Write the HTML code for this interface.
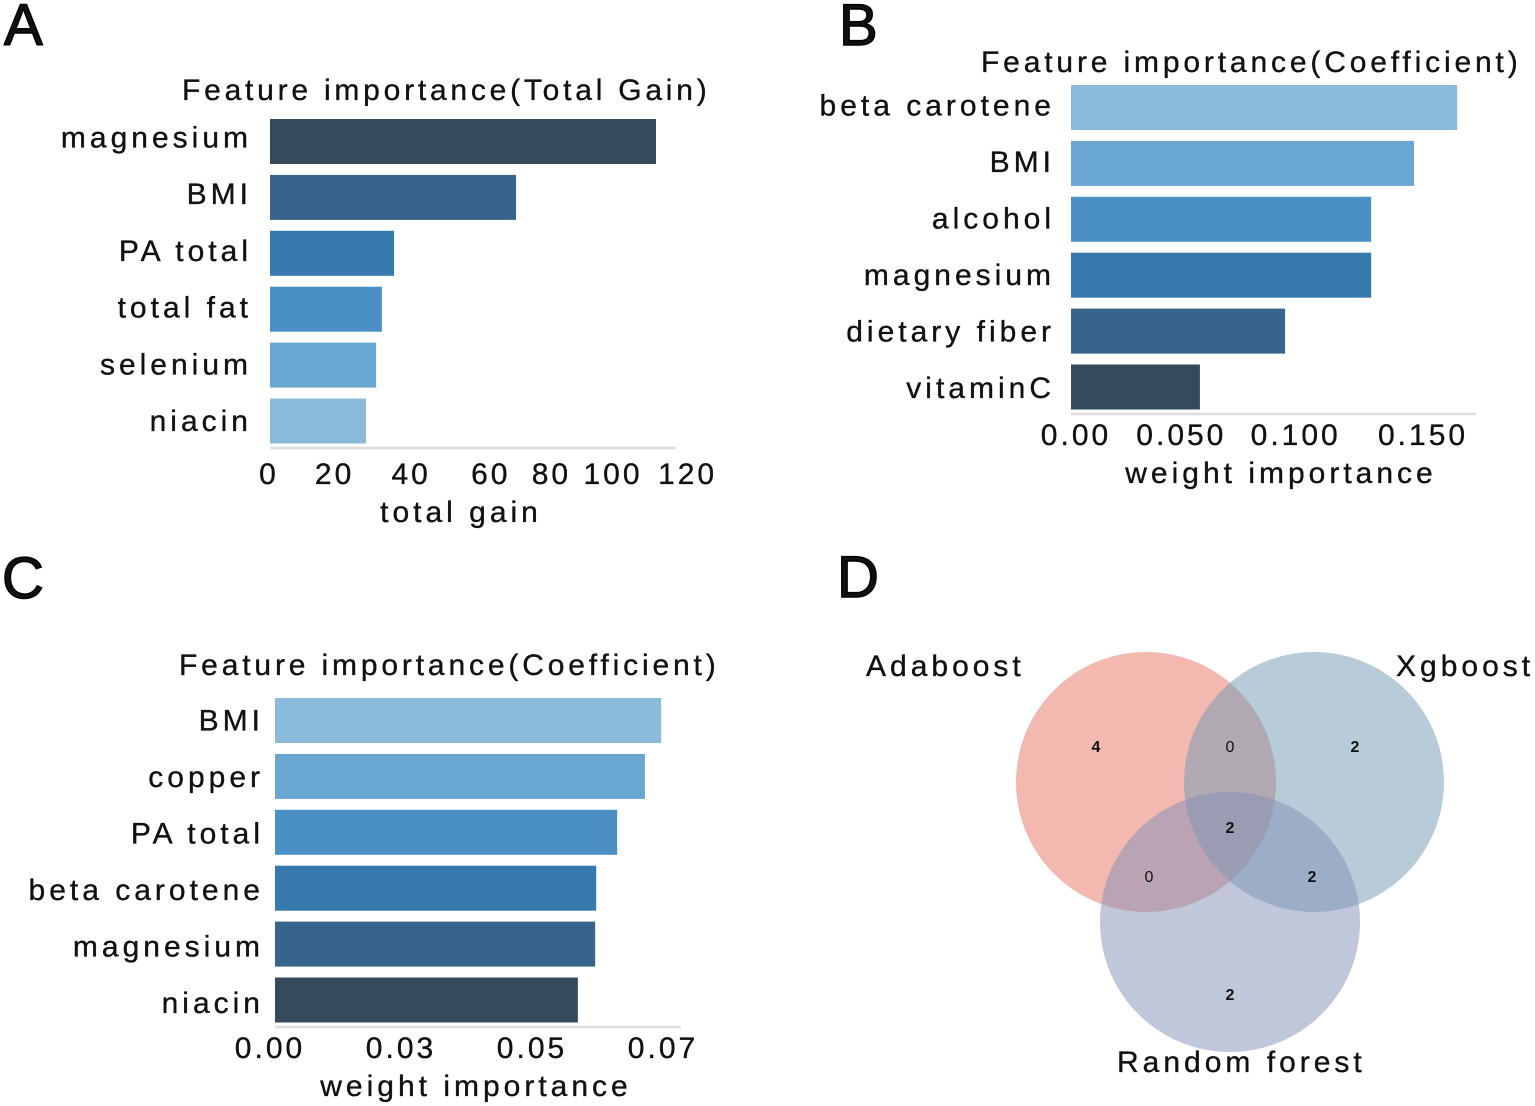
<!DOCTYPE html>
<html lang="en">
<head>
<meta charset="utf-8">
<title>Feature importance panels</title>
<style>
html,body{margin:0;padding:0;background:#fff;width:1535px;height:1106px;overflow:hidden}
svg{display:block}
text{font-family:"Liberation Sans",sans-serif;fill:#111}
.lbl{font-size:30px;letter-spacing:4px;stroke:#111;stroke-width:.35px}
.tick{font-size:30px;letter-spacing:3px;stroke:#111;stroke-width:.35px}
.title{font-size:30px;letter-spacing:3.3px;stroke:#111;stroke-width:.35px}
.panel{font-size:58px;stroke:#000;stroke-width:1.4px}
.count{font-size:16px;font-weight:bold;text-anchor:middle}
.count0{font-size:16px;font-weight:normal;text-anchor:middle}
</style>
</head>
<body>
<svg id="figure" width="1535" height="1106" viewBox="0 0 1535 1106" xmlns="http://www.w3.org/2000/svg">
<rect width="1535" height="1106" fill="#fff"/>
<text class="panel" x="4" y="45">A</text>
<text class="panel" x="839" y="45">B</text>
<text class="panel" x="2" y="598">C</text>
<text class="panel" x="837" y="597">D</text>
<g id="chart-a"></g>
<g id="chart-b"></g>
<g id="chart-c"></g>
<g id="chart-d"></g>
</svg>
<script>
const aCategories = ['magnesium', 'BMI', 'PA total', 'total fat', 'selenium', 'niacin'];
const aValues = [114.2, 72.8, 36.7, 33.1, 31.4, 28.4];
const aTickValues = [0, 20, 40, 60, 80, 100, 120];
const aTickLabels = ['0', '20', '40', '60', '80', '100', '120'];

const bCategories = ['beta carotene', 'BMI', 'alcohol', 'magnesium', 'dietary fiber', 'vitaminC'];
const bValues = [0.166, 0.1474, 0.129, 0.129, 0.092, 0.0554];
const bTickValues = [0, 0.05, 0.1, 0.15];
const bTickLabels = ['0.00', '0.050', '0.100', '0.150'];

const cCategories = ['BMI', 'copper', 'PA total', 'beta carotene', 'magnesium', 'niacin'];
const cValues = [0.0737, 0.0706, 0.0653, 0.0613, 0.0611, 0.0578];
const cTickValues = [0, 0.025, 0.05, 0.075];
const cTickLabels = ['0.00', '0.03', '0.05', '0.07'];

const vennSets = ['Adaboost', 'Xgboost', 'Random forest'];
const vennCounts = [4, 0, 2, 2, 0, 2, 2];

const darkToLight = ['#354b5c', '#36648a', '#3679ac', '#4a90c5', '#6aa6d2', '#8bbbdb'];
const lightToDark = ['#8bbbdb', '#6aa6d2', '#4a90c5', '#3679ac', '#36648a', '#354b5c'];
const SVG_NS = 'http://www.w3.org/2000/svg';

function drawBarChart(cfg) {
  const root = document.getElementById(cfg.id);
  const xScale = v => cfg.x0 + v * cfg.pxPerUnit;
  const title = document.createElementNS(SVG_NS, 'text');
  
  
  title.setAttribute('class', 'title');
  title.setAttribute('x', cfg.titleX);
  title.setAttribute('y', cfg.titleY);
  title.setAttribute('textLength', cfg.titleW);
  title.textContent = cfg.title;
  root.appendChild(title);

  cfg.categories.forEach((cat, i) => {
    const top = cfg.top + i * cfg.step;
    const bar = document.createElementNS(SVG_NS, 'rect');
    
    
    bar.setAttribute('x', cfg.x0);
    bar.setAttribute('y', top);
    bar.setAttribute('width', xScale(cfg.values[i]) - cfg.x0);
    bar.setAttribute('height', cfg.barH);
    bar.setAttribute('fill', cfg.colors[i]);
    root.appendChild(bar);

    const label = document.createElementNS(SVG_NS, 'text');
    
    
    label.setAttribute('class', 'lbl');
    label.setAttribute('text-anchor', 'end');
    label.setAttribute('x', cfg.labelRight + 4);
    label.setAttribute('y', cfg.top + cfg.barH / 2 + 8 + cfg.labelShift + i * cfg.labelStep);
    label.textContent = cat;
    root.appendChild(label);
  });

  const axis = document.createElementNS(SVG_NS, 'line');
  
  
  axis.setAttribute('x1', cfg.x0);
  axis.setAttribute('x2', cfg.axisEnd);
  axis.setAttribute('y1', cfg.axisY);
  axis.setAttribute('y2', cfg.axisY);
  axis.setAttribute('stroke', '#dedede');
  axis.setAttribute('stroke-width', '2.5');
  root.appendChild(axis);

  cfg.tickValues.forEach((v, i) => {
    const tick = document.createElementNS(SVG_NS, 'text');
    
    
    tick.setAttribute('class', 'tick');
    tick.setAttribute('text-anchor', 'middle');
    tick.setAttribute('x', xScale(v) + cfg.tickNudge[i]);
    tick.setAttribute('y', cfg.tickY);
    tick.textContent = cfg.tickLabels[i];
    root.appendChild(tick);
  });

  const axisTitle = document.createElementNS(SVG_NS, 'text');
  
  
  axisTitle.setAttribute('class', 'lbl');
  axisTitle.setAttribute('text-anchor', 'middle');
  axisTitle.setAttribute('x', cfg.axisTitleX);
  axisTitle.setAttribute('y', cfg.axisTitleY);
  axisTitle.textContent = cfg.axisTitle;
  root.appendChild(axisTitle);
}

drawBarChart({
  id: 'chart-a', categories: aCategories, values: aValues, tickValues: aTickValues, tickLabels: aTickLabels,
  colors: darkToLight, x0: 270, pxPerUnit: 3.38, top: 119, step: 55.9, barH: 45, axisY: 448, axisEnd: 676,
  labelRight: 248, labelShift: -2, labelStep: 56.7, tickY: 484, tickNudge: [-1, -3, 6, 18, 11, 5, 12],
  title: 'Feature importance(Total Gain)', titleX: 182, titleY: 100, titleW: 528,
  axisTitle: 'total gain', axisTitleX: 461, axisTitleY: 522
});
drawBarChart({
  id: 'chart-b', categories: bCategories, values: bValues, tickValues: bTickValues, tickLabels: bTickLabels,
  colors: lightToDark, x0: 1071, pxPerUnit: 2327, top: 85, step: 55.9, barH: 45, axisY: 414, axisEnd: 1476,
  labelRight: 1051, labelShift: 0, labelStep: 56.5, tickY: 445, tickNudge: [5, -6, -8, 3],
  title: 'Feature importance(Coefficient)', titleX: 981, titleY: 72, titleW: 540,
  axisTitle: 'weight importance', axisTitleX: 1281, axisTitleY: 483
});
drawBarChart({
  id: 'chart-c', categories: cCategories, values: cValues, tickValues: cTickValues, tickLabels: cTickLabels,
  colors: lightToDark, x0: 275, pxPerUnit: 5240, top: 698, step: 55.9, barH: 45, axisY: 1027, axisEnd: 681,
  labelRight: 260, labelShift: 2, labelStep: 56.5, tickY: 1058, tickNudge: [-5, -5, -5, -5],
  title: 'Feature importance(Coefficient)', titleX: 179, titleY: 675, titleW: 540,
  axisTitle: 'weight importance', axisTitleX: 476, axisTitleY: 1096
});

const vennRoot = document.getElementById('chart-d');
const vennCx = 1230, vennTopY = 782, vennHalfSep = 84, vennBottomY = 922, vennR = 130;
const vennFills = ['#e77363', '#6f99b1', '#818fb5'];
const vennCenters = [[vennCx - vennHalfSep, vennTopY], [vennCx + vennHalfSep, vennTopY], [vennCx, vennBottomY]];
vennSets.forEach((name, i) => {
  const circle = document.createElementNS(SVG_NS, 'circle');
  
  
  circle.setAttribute('cx', vennCenters[i][0]);
  circle.setAttribute('cy', vennCenters[i][1]);
  circle.setAttribute('r', vennR);
  circle.setAttribute('fill', vennFills[i]);
  circle.setAttribute('fill-opacity', '0.5');
  vennRoot.appendChild(circle);
});
const vennSetLabelAnchors = [[866, 676], [1396, 676], [1117, 1072]];
vennSets.forEach((name, i) => {
  const setLabel = document.createElementNS(SVG_NS, 'text');
  
  
  setLabel.setAttribute('class', 'lbl');
  setLabel.setAttribute('x', vennSetLabelAnchors[i][0]);
  setLabel.setAttribute('y', vennSetLabelAnchors[i][1]);
  setLabel.textContent = name;
  vennRoot.appendChild(setLabel);
});
const vennRegionAnchors = [[1096, 752], [1230, 752], [1355, 752], [1230, 833], [1149, 882], [1312, 882], [1230, 1000]];
vennCounts.forEach((count, i) => {
  const region = document.createElementNS(SVG_NS, 'text');
  
  
  region.setAttribute('class', count === 0 ? 'count0' : 'count');
  region.setAttribute('x', vennRegionAnchors[i][0]);
  region.setAttribute('y', vennRegionAnchors[i][1]);
  region.textContent = count;
  vennRoot.appendChild(region);
});
</script>
</body>
</html>
